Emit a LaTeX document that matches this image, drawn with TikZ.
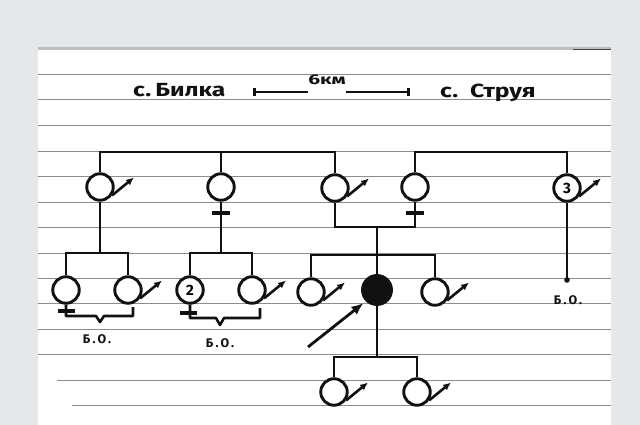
\documentclass[tikz,border=0pt]{standalone}
\usepackage{fontspec}
\setmainfont{Fira Sans}
\newfontfamily\lblfont[LetterSpace=18]{Fira Sans}
\usetikzlibrary{arrows.meta}
\definecolor{bg}{HTML}{E6E7E8}
\definecolor{band}{HTML}{BCBEC0}
\definecolor{rulec}{HTML}{8C8C8C}
\definecolor{ink}{HTML}{111111}
\begin{document}
\begin{tikzpicture}[x=1pt,y=-1pt,
  pers/.style={circle,draw=ink,line width=2.9pt,minimum size=26.5pt,inner sep=0pt,fill=white,
    font=\bfseries\fontsize{15}{15}\selectfont},
  proband/.style={pers,fill=ink,minimum size=29pt},
  ln/.style={draw=ink,line width=2.9pt},
  bar/.style={draw=ink,line width=3.6pt},
  brc/.style={draw=ink,line width=2.6pt,line join=round},
  marrow/.style={draw=ink,line width=2.6pt,-{Latex[length=8pt,width=7pt]}},
  parrow/.style={draw=ink,line width=2.8pt,-{Latex[length=12pt,width=10pt]},shorten >=3pt},
  rul/.style={draw=rulec,line width=0.8pt},
  bo/.style={font=\lblfont\bfseries\fontsize{12.5}{13}\selectfont,text=ink,inner sep=1pt},
  ttl/.style={font=\bfseries\fontsize{19}{20}\selectfont,text=ink,inner sep=0pt,anchor=base west}]
% background and panel
\fill[bg] (0,0) rectangle (640,425);
\useasboundingbox (0,0) rectangle (640,425);
\fill[white] (38,47) rectangle (611,425);
\fill[band] (38,47) rectangle (611,50.5);
\draw[draw=ink!80,line width=1pt] (573,50) -- (611,50);
% ruled lines
\foreach \yy in {74,99,125,151,176,202,227,253,278,303,329,354}
  \draw[rul] (38,\yy) -- (611,\yy);
\draw[rul] (57,380) -- (611,380);
\draw[rul] (72,405) -- (611,405);
% title
\node[ttl] (bilka) at (133,97) {\scalebox{1.3}[1]{с.\,Билка}};
\node[ttl] (struya) at (440,98) {\scalebox{1.3}[1]{с.\, Струя}};
\node[font=\bfseries\fontsize{14}{14}\selectfont,text=ink,inner sep=0pt] (km) at (327,80) {\scalebox{1.5}[1]{6км}};
\coordinate (sL) at (253,92);
\coordinate (sR) at (410,92);
\draw[ln,{Bar[width=8pt]}-] (sL) -- (sL -| km.west);
\draw[ln,-{Bar[width=8pt]}] (sR -| km.east) -- (sR);
% levels
\coordinate (yTop) at (0,152);
\coordinate (yCpl) at (0,227);
\coordinate (yS1) at (0,253);
\coordinate (yS2) at (0,255);
\coordinate (yS3) at (0,357);
% generation I
\node[pers] (A) at (100,187) {};
\node[pers] (B) at (221,187) {};
\node[pers] (C) at (335,188) {};
\node[pers] (D) at (415,187) {};
\node[pers] (E) at (567,188) {3};
% generation II
\node[pers] (F) at (66,290) {};
\node[pers] (G) at (128,290) {};
\node[pers] (H) at (190,290) {2};
\node[pers] (I) at (252,290) {};
\node[pers] (J) at (311,292) {};
\node[proband] (P) at (377,290) {};
\node[pers] (K) at (435,292) {};
% generation III
\node[pers] (L) at (334,392) {};
\node[pers] (M) at (417,392) {};
% sibship lines, top
\draw[ln] (A.north) -- (A.north |- yTop) -- (C.north |- yTop) -- (C.north);
\draw[ln] (B.north) -- (B.north |- yTop);
\draw[ln] (D.north) -- (D.north |- yTop) -- (E.north |- yTop) -- (E.north);
% couple C-D
\draw[ln] (C.south) -- (C.south |- yCpl) -- (D.south |- yCpl) -- (D.south);
\coordinate (dCD) at (377,227);
\draw[ln] (dCD) -- (P.north);
\draw[ln] (J.north) -- (J.north |- yS2) -- (K.north |- yS2) -- (K.north);
% descents A, B
\draw[ln] (A.south) -- (A.south |- yS1);
\draw[ln] (F.north) -- (F.north |- yS1) -- (G.north |- yS1) -- (G.north);
\draw[ln] (B.south) -- (B.south |- yS1);
\draw[ln] (H.north) -- (H.north |- yS1) -- (I.north |- yS1) -- (I.north);
% E line
\coordinate (eEnd) at (567,280);
\draw[ln] (E.south) -- (eEnd);
\fill[ink] (eEnd) circle (2.8pt);
\node[bo] (bo3) at (568,300) {Б.О.};
% proband descent
\draw[ln] (P.south) -- (P.south |- yS3);
\draw[ln] (L.north) -- (L.north |- yS3) -- (M.north |- yS3) -- (M.north);
% female crosses
\draw[bar] ([xshift=-9pt,yshift=-11pt]B.south) -- ([xshift=9pt,yshift=-11pt]B.south);
\draw[bar] ([xshift=-9pt,yshift=-11pt]D.south) -- ([xshift=9pt,yshift=-11pt]D.south);
\draw[ln] (F.south) -- ++(0,6);
\draw[bar] ([xshift=-8pt,yshift=-6pt]F.south) -- ([xshift=9pt,yshift=-6pt]F.south);
\draw[ln] (H.south) -- ++(0,8);
\draw[bar] ([xshift=-10pt,yshift=-8pt]H.south) -- ([xshift=7pt,yshift=-8pt]H.south);
% braces
\draw[brc] (F.south) -- (66,316) -- (96,316) -- (100,322) -- (104,316) -- (133,316) -- (133,307);
\draw[brc] (H.south) -- (190,318) -- (216,318) -- (220,325) -- (224,318) -- (260,318) -- (260,308);
\node[bo] (bo1) at (97,339) {Б.О.};
\node[bo] (bo2) at (220,343) {Б.О.};
% male arrows
\foreach \n in {A,C,E,G,I,J,K,L,M}
  \draw[marrow] (\n.-35) -- ++(22,-18);
% proband arrow
\coordinate (pa) at (308,347);
\draw[parrow] (pa) -- (P.-135);
\end{tikzpicture}
\end{document}
